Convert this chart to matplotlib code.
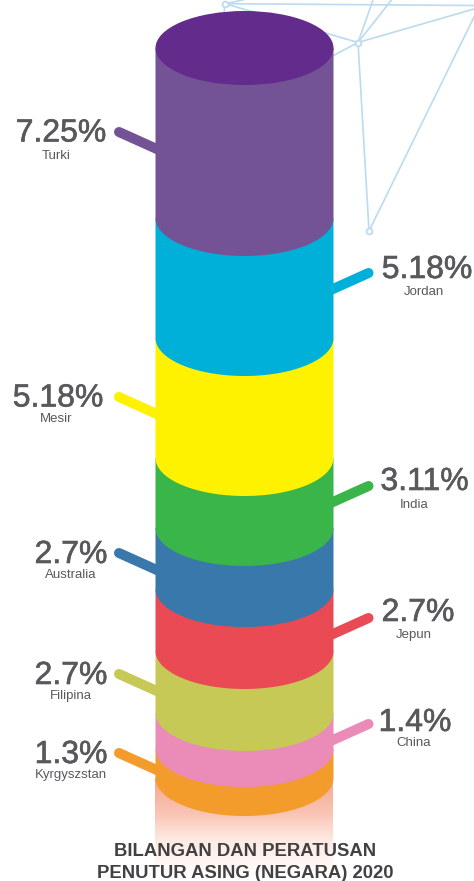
import numpy as np
import matplotlib
matplotlib.use('Agg')
import matplotlib.pyplot as plt
import matplotlib.patheffects as pe
from matplotlib.colors import LinearSegmentedColormap
from matplotlib.patches import Ellipse, Polygon

plt.rcParams['font.family'] = ['Liberation Sans', 'DejaVu Sans']

# top to bottom, as stacked in the cylinder
countries = ['Turki', 'Jordan', 'Mesir', 'India', 'Australia', 'Jepun', 'Filipina', 'China', 'Kyrgyszstan']
percent_labels = ['7.25%', '5.18%', '5.18%', '3.11%', '2.7%', '2.7%', '2.7%', '1.4%', '1.3%']
# band heights as drawn in the graphic (they do not follow the percentages exactly)
band_heights = [170, 120, 120, 70, 61, 62, 62, 36, 29]
colors = ['#745296', '#00b0d8', '#fff200', '#39b54a', '#3878ab', '#ea4a54', '#c6c956', '#ea8bb8', '#f39c2c']
lid_color = '#632b8c'

sides = ['left', 'right', 'left', 'right', 'left', 'right', 'left', 'right', 'left']
leader_y = [132, 273, 397, 486, 553, 618, 674, 724, 753]
pct_x = [61, 427, 58, 424.5, 71, 418, 71, 415, 71]
pct_base = [141.5, 278, 406.5, 490, 563, 621, 684, 731, 763]
name_x = [56, 424, 56, 414, 71, 414, 71, 414, 71]
name_base = [159, 295, 421.5, 508, 578, 638, 699, 746.5, 778]

title_lines = ['BILANGAN DAN PERATUSAN', 'PENUTUR ASING (NEGARA) 2020']

net_lines = [
    ((225, 3.7), (474, 5.5)),
    ((225, 3.7), (358, 42.5)),
    ((225, 3.7), (243, 0)),
    ((225, 3.7), (224, 14)),
    ((358, 42.5), (474, 9)),
    ((358, 42.5), (373, 0)),
    ((358, 42.5), (391.5, 0)),
    ((358, 42.5), (369, 231)),
    ((358, 42.5), (325, 60)),
    ((369, 231), (474, 17)),
]
net_nodes = [(225, 3.7), (358, 42.5), (369, 231)]

cx, rx, ry = 244.5, 89, 38
top_y = 48
net_color = '#bcdaf0'

fig = plt.figure(figsize=(4.74, 8.81), dpi=100)
ax = fig.add_axes([0, 0, 1, 1])

# background network
for a, b in net_lines:
    ax.plot([a[0], b[0]], [a[1], b[1]], color=net_color, lw=1.2, zorder=1)
for x, y in net_nodes:
    ax.plot(x, y, 'o', ms=4.2, mfc='white', mec=net_color, mew=1.3, zorder=2)

edges = top_y + np.cumsum(band_heights)

# fade under the cylinder
fade = LinearSegmentedColormap.from_list('fade', [(0, '#f5a78e'), (0.35, '#f9c4b4'), (0.6, '#fde8e0'), (1, '#ffffff')])
grad = np.linspace(0, 1, 200).reshape(-1, 1)
ax.imshow(grad, cmap=fade, extent=(cx - rx, cx + rx, 878, edges[-1]), aspect='auto', zorder=3)

# leaders sit behind the cylinder
slope = 0.45
for side, y, c in zip(sides, leader_y, colors):
    if side == 'left':
        xs = [119, cx - rx + 20]
    else:
        xs = [368.5, cx + rx - 20]
    ax.plot(xs, [y, y + abs(xs[1] - xs[0]) * slope], color=c, lw=7.2,
            solid_capstyle='round', zorder=4)

# bands, from the bottom up so each one laps over the next
starts = np.concatenate([[top_y], edges[:-1]])
theta = np.linspace(np.pi, 0, 200)
for i in range(len(colors) - 1, -1, -1):
    arc_x = cx + rx * np.cos(theta)
    arc_y = edges[i] + ry * np.sin(theta)
    outline = np.column_stack([
        np.concatenate([[cx - rx], arc_x, [cx + rx]]),
        np.concatenate([[starts[i]], arc_y, [starts[i]]]),
    ])
    ax.add_patch(Polygon(outline, closed=True, fc=colors[i], ec='none', zorder=5 + len(colors) - i))
ax.add_patch(Ellipse((cx, top_y), 2 * rx, 2 * ry - 2, fc=lid_color, ec='none', zorder=30))

ax.set_xlim(0, 474)
ax.set_ylim(881, 0)
ax.axis('off')

stroke = [pe.withStroke(linewidth=0.45, foreground='#58595b')]
for i, name in enumerate(countries):
    ax.text(pct_x[i], pct_base[i], percent_labels[i], fontsize=23, color='#58595b', ha='center',
            va='baseline', path_effects=stroke, zorder=40)
    ax.text(name_x[i], name_base[i], name, fontsize=9.5, color='#58595b', ha='center',
            va='baseline', zorder=40)

ax.text(245, 855.5, title_lines[0], fontsize=13.3, fontweight='bold', color='#414042',
        ha='center', va='baseline', zorder=40)
ax.text(245, 878, title_lines[1], fontsize=13.3, fontweight='bold', color='#414042',
        ha='center', va='baseline', zorder=40)

fig.savefig('out.png', dpi=100)
